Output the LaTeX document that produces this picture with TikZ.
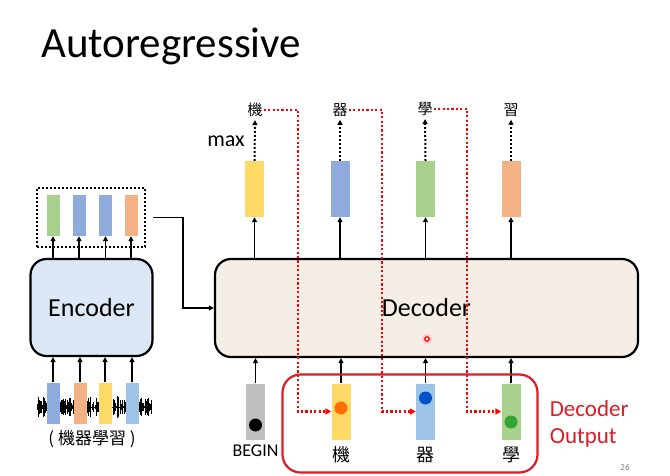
\documentclass[tikz,border=0pt]{standalone}
\usepackage{fontspec}
\setmainfont{Carlito}
\newfontfamily\cjk{Noto Sans CJK TC}
\usepackage{tikz}
\usetikzlibrary{calc, positioning, arrows.meta}
\definecolor{vblue}{HTML}{8FAADC}
\definecolor{vsky}{HTML}{9DC3E6}
\definecolor{vgreen}{HTML}{A9D18E}
\definecolor{vsalmon}{HTML}{F4B183}
\definecolor{vyellow}{HTML}{FFD966}
\definecolor{vgray}{HTML}{BFBFBF}
\definecolor{encfill}{HTML}{DCE8F5}
\definecolor{decfill}{HTML}{F5EEE6}
\definecolor{outred}{HTML}{DD1C24}

\begin{document}
\begin{tikzpicture}[x=1pt, y=-1pt]
    % --- Styles ---
    \tikzstyle{block}=[draw=black, line width=2.2pt, rounded corners=16pt, inner sep=0pt, font=\fontsize{26}{30}\selectfont]
    \tikzstyle{vec}=[inner sep=0pt, minimum width=13pt, minimum height=41pt]
    \tikzstyle{big_vec}=[inner sep=0pt, minimum width=19pt, minimum height=56pt]
    \tikzstyle{dot}=[circle, inner sep=0pt, minimum size=13pt]
    \tikzstyle{link}=[line width=1.6pt, -{Triangle[length=5pt, width=5pt]}]
    \tikzstyle{pick}=[line width=2pt, dash pattern=on 2pt off 2pt, -{Triangle[length=5pt, width=5pt]}, shorten >=2pt]
    \tikzstyle{feed}=[red, line width=2.2pt, dash pattern=on 2.2pt off 2.2pt, -{Triangle[length=6pt, width=6pt]}]
    \tikzstyle{label_text}=[inner sep=0pt, font=\fontsize{18}{20}\selectfont]
    \tikzstyle{token}=[inner sep=1pt, font=\cjk\fontsize{15}{15}\selectfont]
    \tikzstyle{token_big}=[inner sep=0pt, font=\cjk\fontsize{18}{18}\selectfont]

    \useasboundingbox (0,0) rectangle (670,476);

    % --- 1. Title ---
    \node[anchor=base west, inner sep=0pt, font=\fontsize{43}{50}\selectfont] (title) at (41,58) {Autoregressive};

    % --- 2. Encoder side ---
    % speech wave behind the input vectors
    \pgfmathsetseed{3}
    \foreach \x in {37,37.8,...,152}{
        \pgfmathsetmacro{\h}{(1.2+10*abs(sin((\x-54)*7)))*rnd}
        \draw[line width=0.7pt] (\x,407-\h) -- (\x,407+\h);
    }
    \node[vec, fill=vblue] (e_in1) at (53,403) {};
    \node[vec, fill=vsalmon] (e_in2) at (80,403) {};
    \node[vec, fill=vyellow] (e_in3) at (105,403) {};
    \node[vec, fill=vsky] (e_in4) at (132,403) {};
    \node[token, font=\cjk\fontsize{17}{17}\selectfont] (src) at (92,439) {( 機器學習 )};

    \node[block, fill=encfill, minimum width=122pt, minimum height=97pt] (enc) at (91.5,307.5) {Encoder};

    \node[draw=black, line width=2.2pt, dash pattern=on 2pt off 2pt, minimum width=108pt, minimum height=59pt] (enc_out) at (91,217.5) {};
    \node[vec, fill=vgreen] (e_out1) at (53,215.5) {};
    \node[vec, fill=vblue] (e_out2) at (79,215.5) {};
    \node[vec, fill=vblue] (e_out3) at (105.5,215.5) {};
    \node[vec, fill=vsalmon] (e_out4) at (131,215.5) {};

    \draw[link] (e_in1.north) -- (e_in1 |- enc.south);
    \draw[link] (e_in2.north) -- (e_in2 |- enc.south);
    \draw[link] (e_in3.north) -- (e_in3 |- enc.south);
    \draw[link] (e_in4.north) -- (e_in4 |- enc.south);
    \draw[link] (enc.north -| e_out1) -- (e_out1.south);
    \draw[link] (enc.north -| e_out2) -- (e_out2.south);
    \draw[link] (enc.north -| e_out3) -- (e_out3.south);
    \draw[link] (enc.north -| e_out4) -- (e_out4.south);

    % --- 3. Decoder ---
    \node[block, fill=decfill, minimum width=423pt, minimum height=98pt] (dec) at (426.5,308) {Decoder};
    \draw[link] ([xshift=7pt]enc_out.east) -- ++(30,0) |- (dec.west);

    % outputs on top
    \node[big_vec, fill=vyellow] (d_out1) at (254.5,189) {};
    \node[big_vec, fill=vblue] (d_out2) at (340,189) {};
    \node[big_vec, fill=vgreen] (d_out3) at (425.5,189) {};
    \node[big_vec, fill=vsalmon] (d_out4) at (511,189) {};
    \draw[link] (dec.north -| d_out1) -- (d_out1.south);
    \draw[link] (dec.north -| d_out2) -- (d_out2.south);
    \draw[link] (dec.north -| d_out3) -- (d_out3.south);
    \draw[link] (dec.north -| d_out4) -- (d_out4.south);

    \node[token] (t1) at (255,110) {機};
    \node[token] (t2) at (340,110) {器};
    \node[token] (t3) at (425,109) {學};
    \node[token] (t4) at (511,110) {習};
    \draw[pick] (d_out1.north) -- (t1.south);
    \draw[pick] (d_out2.north) -- (t2.south);
    \draw[pick] (d_out3.north) -- (t3.south);
    \draw[pick] (d_out4.north) -- (t4.south);
    \node[label_text, font=\fontsize{22}{24}\selectfont] (max) at (226,141) {max};

    % inputs below
    \node[big_vec, fill=vgray] (d_in0) at (255.5,411.5) {};
    \node[big_vec, fill=vyellow] (d_in1) at (341,411.5) {};
    \node[big_vec, fill=vsky] (d_in2) at (425.5,411.5) {};
    \node[big_vec, fill=vgreen] (d_in3) at (511,411.5) {};
    \node[dot, fill=black] (k0) at (255.5,425) {};
    \node[dot, fill=orange!85!red] (k1) at (341,408) {};
    \node[dot, fill=blue!60!cyan!80!black] (k2) at (425.5,398) {};
    \node[dot, fill=green!55!black!80] (k3) at (511,422) {};
    \draw[link] (d_in0.north) -- (d_in0 |- dec.south);
    \draw[link] (d_in1.north) -- (d_in1 |- dec.south);
    \draw[link] (d_in2.north) -- (d_in2 |- dec.south);
    \draw[link] (d_in3.north) -- (d_in3 |- dec.south);

    \node[label_text, below=5pt of d_in0] (begin) {BEGIN};
    \node[token_big] (l1) at (341,455) {機};
    \node[token_big] (l2) at (425.5,455) {器};
    \node[token_big] (l3) at (511,455) {學};

    % --- 4. Feeding the output back in ---
    \coordinate (r1) at (298,411.5);
    \coordinate (r2) at (382,411.5);
    \coordinate (r3) at (467,411.5);
    \draw[feed] (t1.east) -| (r1) -- (d_in1.west);
    \draw[feed] (t2.east) -| (r2) -- (d_in2.west);
    \draw[feed] (t3.east) -| (r3) -- (d_in3.west);

    \node[draw=outred, line width=2.2pt, rounded corners=18pt, minimum width=255pt, minimum height=98pt] (outbox) at (410,423.5) {};
    \node[label_text, text=outred, align=left, right=11pt of outbox, font=\fontsize{23}{27}\selectfont] (outlbl) {Decoder\\Output};

    % pointer dot and page number
    \fill[red!30, opacity=0.6] (427,339) circle (5);
    \draw[red, line width=1.2pt, fill=white] (427,339) circle (2.2);
    \node[text=gray, font=\fontsize{9}{9}\selectfont] (page) at (625,467) {26};
\end{tikzpicture}
\end{document}
